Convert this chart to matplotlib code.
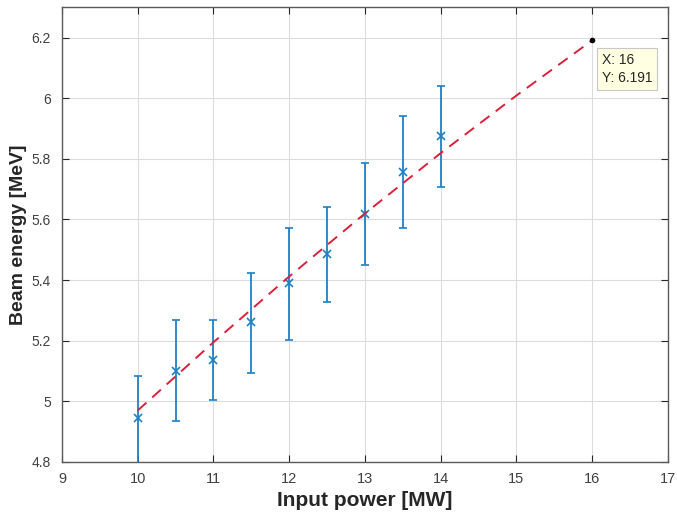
import numpy as np
import matplotlib
matplotlib.use("Agg")
import matplotlib.pyplot as plt

plt.rcParams['font.family'] = ['Liberation Sans', 'DejaVu Sans']

# measured points
power = [10, 10.5, 11, 11.5, 12, 12.5, 13, 13.5, 14]
energy = [4.944, 5.101, 5.138, 5.262, 5.389, 5.485, 5.619, 5.756, 5.874]
err_up = [5.083, 5.268, 5.268, 5.425, 5.573, 5.640, 5.788, 5.941, 6.042]
err_lo = [4.790, 4.934, 5.004, 5.094, 5.204, 5.327, 5.450, 5.572, 5.707]

# fitted curve
fit_x = [10, 11, 12, 13, 14, 15, 16]
fit_y = [4.970, 5.195, 5.412, 5.620, 5.819, 6.009, 6.191]

tip_x = 16
tip_y = 6.191

blue = '#1f80c6'
red = '#D9213A'

energy = np.array(energy)
yerr = [energy - np.array(err_lo), np.array(err_up) - energy]

fig = plt.figure(figsize=(6.77, 5.12), dpi=100)
ax = fig.add_axes([0.0916, 0.0977, 0.895, 0.888])

ax.errorbar(power, energy, yerr=yerr, fmt='x', color=blue, ecolor=blue,
            elinewidth=1.3, capsize=3, capthick=1.0, markersize=6, mew=1.2, zorder=3)
ax.plot(fit_x, fit_y, '--', color=red, lw=1.4, dashes=(6, 4), zorder=4)
ax.plot([tip_x], [tip_y], 'o', color='black', markersize=3, zorder=5)

ax.annotate('X: %g\nY: %.3f' % (tip_x, tip_y), xy=(tip_x, tip_y), xytext=(7, -9),
            textcoords='offset points', ha='left', va='top', fontsize=10,
            color='#262626', linespacing=1.35,
            bbox=dict(boxstyle='square,pad=0.35', fc='#FFFFE1', ec='#C8C8C8', lw=0.8),
            zorder=6)

ax.set_xlim(9, 17)
ax.set_ylim(4.8, 6.3)
ax.set_xticks(np.arange(9, 18, 1))
ax.set_yticks([4.8, 5.0, 5.2, 5.4, 5.6, 5.8, 6.0, 6.2])
ax.set_yticklabels(['4.8', '5', '5.2', '5.4', '5.6', '5.8', '6', '6.2'])
ax.set_xticklabels([str(v) for v in range(9, 18)])

ax.grid(True, color='#DCDCDC', lw=0.8)
ax.set_axisbelow(True)
ax.tick_params(direction='in', top=True, right=True, length=5, width=0.8,
               colors='#262626', labelsize=10.5, labelcolor='#404040')
ax.tick_params(axis='x', pad=7)
ax.tick_params(axis='y', pad=8, labelsize=10)
for s in ax.spines.values():
    s.set_color('#5a5a5a')
    s.set_linewidth(1.0)

ax.set_xlabel('Input power [MW]', fontsize=15, fontweight='bold', color='#262626', labelpad=4)
ax.set_ylabel('Beam energy [MeV]', fontsize=14, fontweight='bold', color='#262626')
ax.yaxis.set_label_coords(-0.057, 0.5)

fig.savefig('out.png', dpi=100)
